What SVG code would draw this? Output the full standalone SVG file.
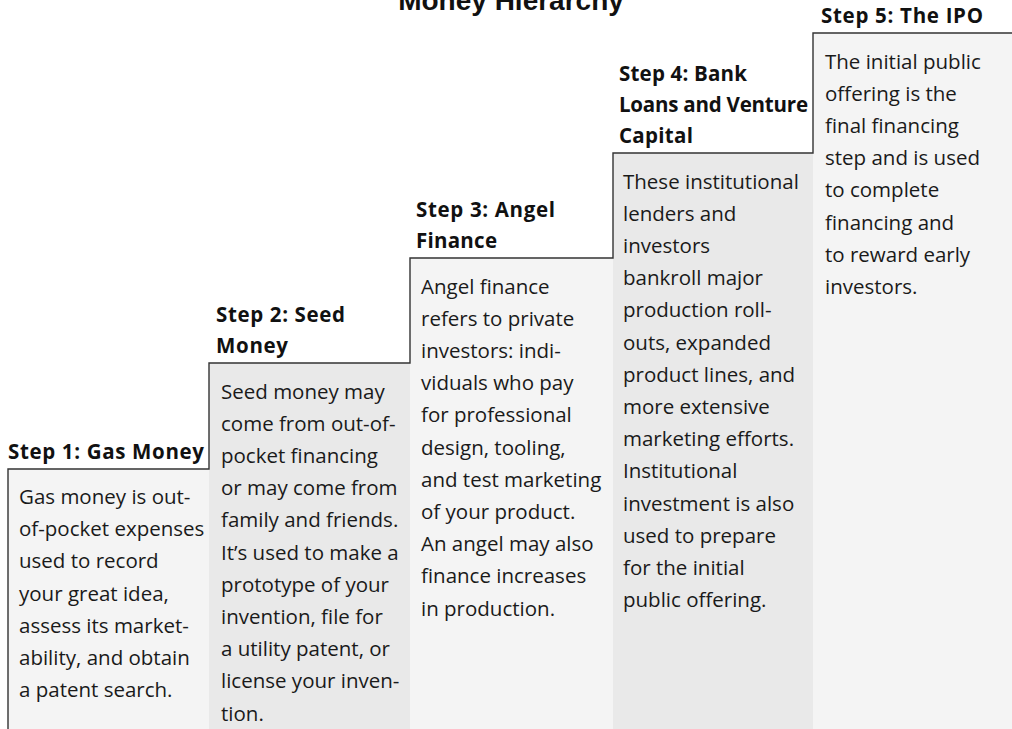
<svg xmlns="http://www.w3.org/2000/svg" width="1012" height="729" viewBox="0 0 1012 729">
  <style>
    .title { font-family: "Liberation Sans", Arial, sans-serif; font-weight: bold; font-size: 28px; fill: #111; }
    .head { font-family: "Open Sans", "Noto Sans", sans-serif; font-weight: bold; font-size: 20.5px; fill: #111; }
    .body { font-family: "Open Sans", "Noto Sans", sans-serif; font-size: 20.5px; fill: #1a1a1a; }
    .light { fill: #f4f4f4; }
    .dark { fill: #e9e9e9; }
    .stairs { fill: none; stroke: #333; stroke-width: 1.4; }
  </style>

  <rect width="1012" height="729" fill="#ffffff"/>

  <text class="title" x="511" y="10" text-anchor="middle">Money Hierarchy</text>

  <!-- column panels, one per step -->
  <g id="step1">
    <rect class="light" x="8" y="469" width="201" height="260"/>
    <text class="head" x="8" y="459" textLength="196">Step 1: Gas Money</text>
    <text class="body" y="504">
      <tspan x="19">Gas money is out-</tspan>
      <tspan x="19" dy="32.2">of-pocket expenses</tspan>
      <tspan x="19" dy="32.2">used to record</tspan>
      <tspan x="19" dy="32.2">your great idea,</tspan>
      <tspan x="19" dy="32.2">assess its market-</tspan>
      <tspan x="19" dy="32.2">ability, and obtain</tspan>
      <tspan x="19" dy="32.2">a patent search.</tspan>
    </text>
  </g>

  <g id="step2">
    <rect class="dark" x="209" y="363" width="201" height="366"/>
    <text class="head" x="216" y="322" textLength="129">Step 2: Seed</text>
    <text class="head" x="216" y="353" textLength="72">Money</text>
    <text class="body" y="398.5">
      <tspan x="221">Seed money may</tspan>
      <tspan x="221" dy="32.2">come from out-of-</tspan>
      <tspan x="221" dy="32.2">pocket financing</tspan>
      <tspan x="221" dy="32.2">or may come from</tspan>
      <tspan x="221" dy="32.2">family and friends.</tspan>
      <tspan x="221" dy="32.2">It’s used to make a</tspan>
      <tspan x="221" dy="32.2">prototype of your</tspan>
      <tspan x="221" dy="32.2">invention, file for</tspan>
      <tspan x="221" dy="32.2">a utility patent, or</tspan>
      <tspan x="221" dy="32.2">license your inven-</tspan>
      <tspan x="221" dy="32.2">tion.</tspan>
    </text>
  </g>

  <g id="step3">
    <rect class="light" x="410" y="258" width="203" height="471"/>
    <text class="head" x="416" y="217" textLength="139">Step 3: Angel</text>
    <text class="head" x="416" y="248" textLength="81">Finance</text>
    <text class="body" y="293.5">
      <tspan x="421">Angel finance</tspan>
      <tspan x="421" dy="32.2">refers to private</tspan>
      <tspan x="421" dy="32.2">investors: indi-</tspan>
      <tspan x="421" dy="32.2">viduals who pay</tspan>
      <tspan x="421" dy="32.2">for professional</tspan>
      <tspan x="421" dy="32.2">design, tooling,</tspan>
      <tspan x="421" dy="32.2">and test marketing</tspan>
      <tspan x="421" dy="32.2">of your product.</tspan>
      <tspan x="421" dy="32.2">An angel may also</tspan>
      <tspan x="421" dy="32.2">finance increases</tspan>
      <tspan x="421" dy="32.2">in production.</tspan>
    </text>
  </g>

  <g id="step4">
    <rect class="dark" x="613" y="153" width="200" height="576"/>
    <text class="head" x="619" y="81" textLength="128">Step 4: Bank</text>
    <text class="head" x="619" y="112" textLength="189">Loans and Venture</text>
    <text class="head" x="619" y="143" textLength="74">Capital</text>
    <text class="body" y="188.5">
      <tspan x="623">These institutional</tspan>
      <tspan x="623" dy="32.2">lenders and</tspan>
      <tspan x="623" dy="32.2">investors</tspan>
      <tspan x="623" dy="32.2">bankroll major</tspan>
      <tspan x="623" dy="32.2">production roll-</tspan>
      <tspan x="623" dy="32.2">outs, expanded</tspan>
      <tspan x="623" dy="32.2">product lines, and</tspan>
      <tspan x="623" dy="32.2">more extensive</tspan>
      <tspan x="623" dy="32.2">marketing efforts.</tspan>
      <tspan x="623" dy="32.2">Institutional</tspan>
      <tspan x="623" dy="32.2">investment is also</tspan>
      <tspan x="623" dy="32.2">used to prepare</tspan>
      <tspan x="623" dy="32.2">for the initial</tspan>
      <tspan x="623" dy="32.2">public offering.</tspan>
    </text>
  </g>

  <g id="step5">
    <rect class="light" x="813" y="33" width="199" height="696"/>
    <text class="head" x="821" y="23" textLength="162">Step 5: The IPO</text>
    <text class="body" y="68.5">
      <tspan x="825">The initial public</tspan>
      <tspan x="825" dy="32.2">offering is the</tspan>
      <tspan x="825" dy="32.2">final financing</tspan>
      <tspan x="825" dy="32.2">step and is used</tspan>
      <tspan x="825" dy="32.2">to complete</tspan>
      <tspan x="825" dy="32.2">financing and</tspan>
      <tspan x="825" dy="32.2">to reward early</tspan>
      <tspan x="825" dy="32.2">investors.</tspan>
    </text>
  </g>

  <!-- stair outline tying the steps together -->
  <g id="connectors">
    <path class="stairs" d="M8,729 V469 H209 V363 H410 V258 H613 V153 H813 V33 H1012"/>
  </g>
</svg>
